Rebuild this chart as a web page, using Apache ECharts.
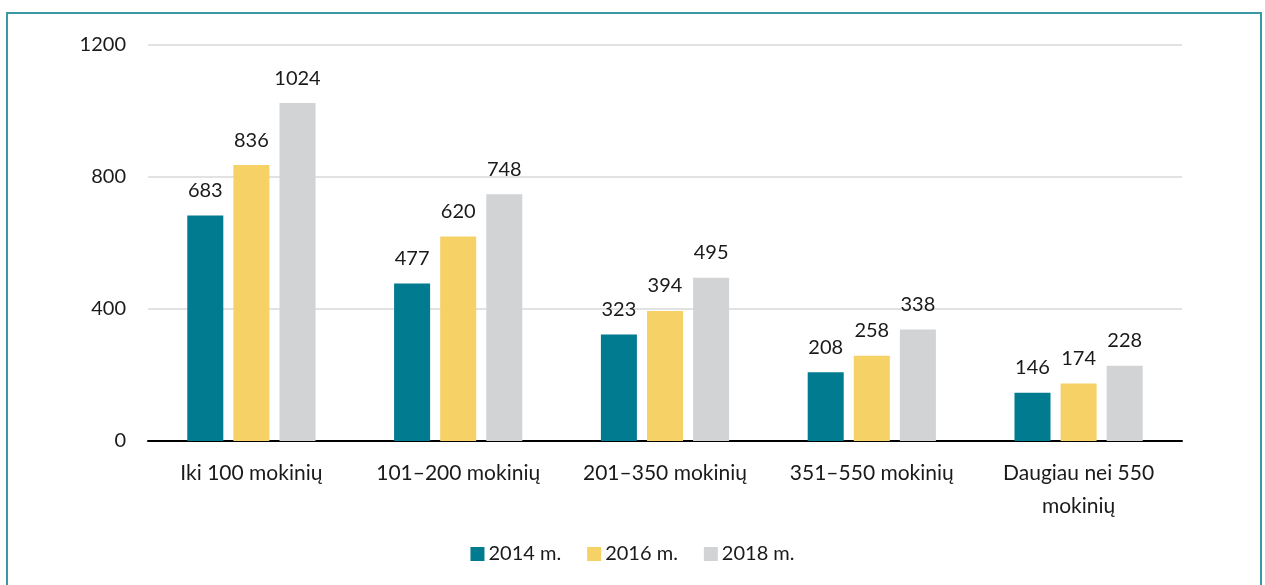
<!DOCTYPE html>
<html lang="lt">
<head>
    <meta charset="UTF-8">
    <title>Mokyklos pagal mokinių skaičių</title>
    <script src="https://cdn.jsdelivr.net/npm/echarts@6/dist/echarts.min.js"></script>
    <style>
        html, body { margin: 0; padding: 0; background: #fff; overflow: hidden; }
        #frame {
            position: absolute; left: 6px; top: 12px;
            width: 1252px; height: 600px;
            border-left: 2px solid #3b99a6;
            border-top: 2px solid #3b99a6;
            border-right: 2px solid #3b99a6;
        }
        #chart { position: absolute; left: 0; top: 0; width: 1265px; height: 585px; }
    </style>
</head>
<body>
<div id="frame"></div>
<div id="chart"></div>
<script>
    var categories = ['Iki 100 mokinių', '101–200 mokinių', '201–350 mokinių', '351–550 mokinių', 'Daugiau nei 550\nmokinių'];
    var years = ['2014 m.', '2016 m.', '2018 m.'];
    var v2014 = [683, 477, 323, 208, 146];
    var v2016 = [836, 620, 394, 258, 174];
    var v2018 = [1024, 748, 495, 338, 228];
    var colors = ['#007b8f', '#f5d166', '#d2d3d5'];

    var font = 'Lato, "Open Sans", sans-serif';
    var chart = echarts.init(document.getElementById('chart'));

    function makeSeries(name, data, i) {
        return {
            name: name,
            type: 'bar',
            data: data,
            barGap: '28%',
            barCategoryGap: '38%',
            itemStyle: { color: colors[i] },
            label: {
                show: true,
                position: 'top',
                distance: 15,
                color: '#1a1a1a',
                fontSize: 20,
                fontFamily: font
            }
        };
    }

    chart.setOption({
        animation: false,
        grid: { left: 148, right: 83, top: 45, bottom: 144 },
        legend: {
            bottom: 16,
            left: 'center',
            itemWidth: 14,
            itemHeight: 14,
            itemGap: 26,
            icon: 'rect',
            textStyle: { fontSize: 20, color: '#1a1a1a', fontFamily: font, padding: [0, 0, 0, -1] },
            data: years
        },
        xAxis: {
            type: 'category',
            data: categories,
            axisLine: { lineStyle: { color: '#000', width: 2 } },
            axisTick: { show: false },
            axisLabel: { interval: 0, fontSize: 21, color: '#1a1a1a', fontFamily: font, margin: 16, lineHeight: 33 }
        },
        yAxis: {
            type: 'value',
            min: 0,
            max: 1200,
            interval: 400,
            axisLine: { show: false },
            axisTick: { show: false },
            axisLabel: {
                fontSize: 20, color: '#1a1a1a', fontFamily: font, margin: 22,
                formatter: function (v) { return String(v); }
            },
            splitLine: { lineStyle: { color: '#d9d9d9', width: 1.5 } }
        },
        series: [
            makeSeries(years[0], v2014, 0),
            makeSeries(years[1], v2016, 1),
            makeSeries(years[2], v2018, 2)
        ]
    });
</script>
</body>
</html>
